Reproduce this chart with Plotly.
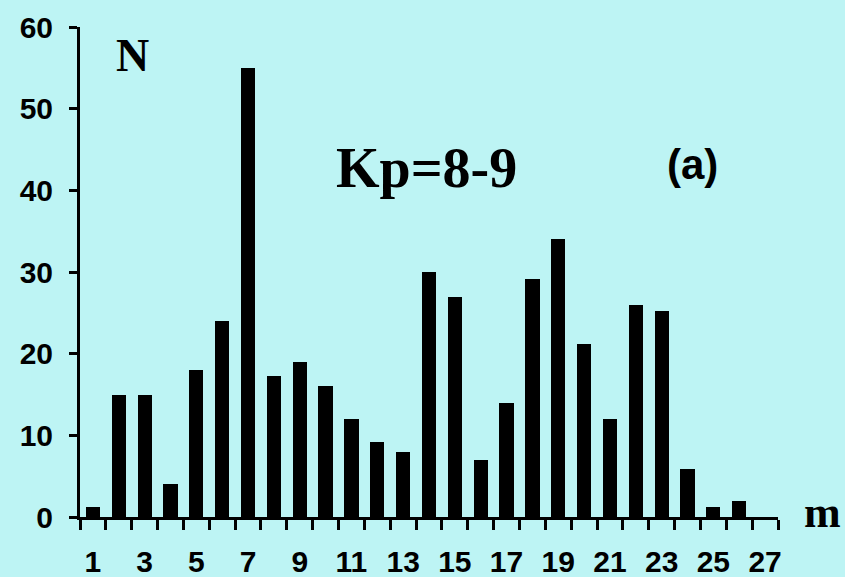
import plotly.graph_objects as go

# Event counts per bin m for Kp = 8-9
m_bins = list(range(1, 28))
counts = [1.2, 15, 15, 4, 18, 24, 55, 17.3, 19, 16, 12, 9.2, 8,
          30, 27, 7, 14, 29.2, 34, 21.2, 12, 26, 25.2, 5.9, 1.2, 1.9, None]

x_tick_values = list(range(1, 28, 2))
x_tick_labels = [str(v) for v in x_tick_values]
y_tick_values = [0, 10, 20, 30, 40, 50, 60]
bin_edges = [b - 0.5 for b in m_bins] + [m_bins[-1] + 0.5]

bg = "#BDF4F4"
sans = "Liberation Sans, Arial, sans-serif"
serif = "Liberation Serif, Times New Roman, serif"

W, H = 845, 577
L, R, T, B = 80, 67, 27, 60

fig = go.Figure(
    go.Bar(
        x=m_bins,
        y=counts,
        width=0.55,
        marker=dict(color="black", line=dict(width=0)),
        hoverinfo="x+y",
    )
)

fig.update_layout(
    width=W,
    height=H,
    margin=dict(l=L, r=R, t=T, b=B, autoexpand=False),
    paper_bgcolor=bg,
    plot_bgcolor=bg,
    showlegend=False,
    bargap=0,
)

fig.update_xaxes(
    range=[0.5, 27.5],
    automargin=False,
    tickmode="array",
    tickvals=x_tick_values,
    ticktext=x_tick_labels,
    ticks="",
    ticklabelstandoff=16,
    tickfont=dict(family=sans, size=30, color="black", weight="bold"),
    showline=True,
    linecolor="black",
    linewidth=3,
    showgrid=False,
    zeroline=False,
    minor=dict(tickmode="array", tickvals=bin_edges, ticks="outside",
               ticklen=10, tickwidth=3, tickcolor="black", showgrid=False),
)

fig.update_yaxes(
    range=[0, 60],
    automargin=False,
    tickmode="array",
    tickvals=y_tick_values,
    ticks="outside",
    ticklen=8,
    tickwidth=3,
    tickcolor="black",
    ticklabelstandoff=10,
    tickfont=dict(family=sans, size=30, color="black", weight="bold"),
    showline=True,
    linecolor="black",
    linewidth=3,
    showgrid=False,
    zeroline=False,
)

# Text labels placed in pixel terms, converted to plot-area fractions
annotations = [
    dict(text="N", x=132, y=55, font=dict(family=serif, size=46, weight="bold")),
    dict(text="Kp=8-9", x=426, y=168, font=dict(family=serif, size=56, weight="bold")),
    dict(text="(a)", x=692, y=164, font=dict(family=sans, size=42, weight="bold")),
    dict(text="m", x=822, y=512, font=dict(family=serif, size=44, weight="bold")),
]
pw, ph = W - L - R, H - T - B
for a in annotations:
    fig.add_annotation(
        text=a["text"],
        xref="paper", yref="paper",
        x=(a["x"] - L) / pw, y=(H - B - a["y"]) / ph,
        xanchor="center", yanchor="middle",
        showarrow=False,
        font=dict(color="black", **a["font"]),
    )

fig.write_html("out.html")
